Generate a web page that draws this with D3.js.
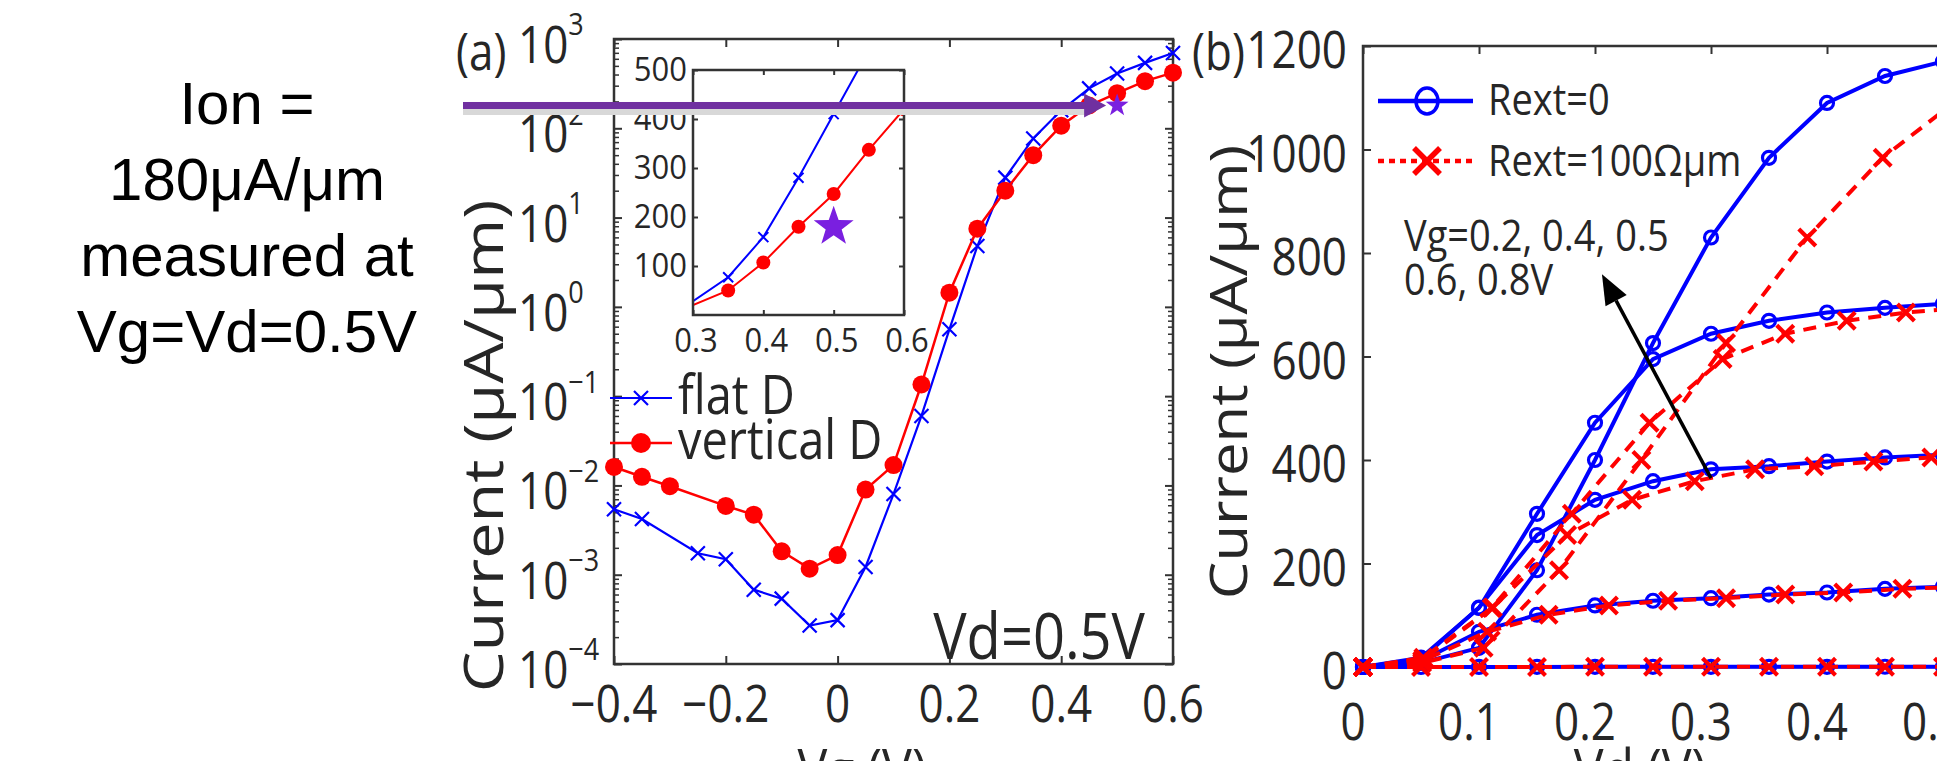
<!DOCTYPE html>
<html><head><meta charset="utf-8">
<script src="https://cdn.jsdelivr.net/npm/d3@7"></script>
<style>body{margin:0;background:#fff;} svg{display:block;}</style>
</head><body>
<svg id="chart" width="1937" height="761"></svg>
<script>
// ---------------- data ----------------
const noteLines = ["Ion =", "180μA/μm", "measured at", "Vg=Vd=0.5V"];

// panel (a): Id-Vg at Vd = 0.5 V (μA/μm), null = no marker in the figure
const vgA   = [-0.4,-0.35,-0.3,-0.25,-0.2,-0.15,-0.1,-0.05,0,0.05,0.1,0.15,0.2,0.25,0.3,0.35,0.4,0.45,0.5,0.55,0.6];
const flatD = [5.4e-3,4.2e-3,null,1.74e-3,1.49e-3,6.8e-4,5.4e-4,2.7e-4,3.1e-4,1.22e-3,8.0e-3,0.06,0.56,4.8,28,77,159,280,410,540,698];
const vertD = [0.0161,0.0125,9.8e-3,null,5.9e-3,4.7e-3,1.83e-3,1.17e-3,1.66e-3,9.0e-3,0.0169,0.135,1.44,7.5,20,50,107,180,247,337,420];
const seriesNamesA = ["flat D", "vertical D"];
const ionVg = 0.5, ionI = 180;
const xTicksA = [-0.4,-0.2,0,0.2,0.4,0.6];
const xTickLabelsA = ["−0.4","−0.2","0","0.2","0.4","0.6"];
const yExpA = [-4,-3,-2,-1,0,1,2,3];
const insetXTicks = [0.3,0.4,0.5,0.6];
const insetYTicks = [100,200,300,400,500];

// panel (b): Id-Vd, Rext = 0 (blue) and Rext = 100 Ωμm (red)
const vdB = [0,0.05,0.1,0.15,0.2,0.25,0.3,0.35,0.4,0.45,0.5];
const id0_vg02 = [0,0,0.1,0.2,0.3,0.3,0.4,0.4,0.4,0.5,0.5];
const id0_vg04 = [0,12,68,101,119,128,133,140,144,151,155];
const id0_vg05 = [0,15,115,255,323,359,382,388,397,405,410];
const id0_vg06 = [0,18,114,296,472,595,644,669,685,694,702];
const id0_vg08 = [0,8,37,187,400,626,830,984,1090,1142,1170];
const vdR_vg02 = [0,0.05,0.1,0.15,0.2,0.25,0.3,0.35,0.4,0.45,0.5];
const vdR_vg04 = [0,0.051,0.107,0.16,0.212,0.263,0.313,0.364,0.414,0.465,0.516];
const vdR_vg05 = [0,0.052,0.112,0.176,0.232,0.286,0.338,0.389,0.44,0.49,0.541];
const vdR_vg06 = [0,0.052,0.111,0.18,0.247,0.31,0.364,0.417,0.468,0.519,0.57];
const vdR_vg08 = [0,0.051,0.104,0.169,0.24,0.313,0.383,0.448,0.509,0.564,0.617];
const idR_vg02 = [0,0,0.1,0.2,0.3,0.3,0.4,0.4,0.4,0.5,0.5];
const idR_vg04 = [0,12,68,101,119,128,133,140,144,151,155];
const idR_vg05 = [0,15,115,255,323,359,382,388,397,405,410];
const idR_vg06 = [0,18,114,296,472,595,644,669,685,694,702];
const idR_vg08 = [0,8,37,187,400,626,830,984,1090,1142,1170];
const seriesNamesB = ["Rext=0", "Rext=100Ωμm"];
const annotB = ["Vg=0.2, 0.4, 0.5", "0.6, 0.8V"];
const xTicksB = [0,0.1,0.2,0.3,0.4,0.5];
const yTicksB = [0,200,400,600,800,1000,1200];

// ---------------- drawing ----------------
const svg = d3.select("#chart");
const FONT = "'Open Sans', sans-serif";
const TXT = "#262626";
const AX = "#333";
const BLUE = "#0000ff", RED = "#ff0000", PURPLE = "#7030a0", STAR = "#7a1fe0";
const SY = 1.15; // the figure is slightly stretched vertically

function txt(g, x, y, s, size, anchor = "start", sy = SY) {
  return g.append("text").attr("transform", `translate(${x},${y}) scale(1,${sy})`)
    .attr("text-anchor", anchor).attr("font-family", FONT).attr("font-size", size).attr("fill", TXT).text(s);
}
function vtxt(g, x, y, s, size, sx = 1.2) {
  return g.append("text").attr("transform", `translate(${x},${y}) rotate(-90) scale(${sx},1)`)
    .attr("text-anchor", "middle").attr("font-family", FONT).attr("font-size", size).attr("fill", TXT).text(s);
}
function starPath(cx, cy, R) {
  const r = R * 0.40, pts = [];
  for (let i = 0; i < 10; i++) {
    const a = -Math.PI/2 + i*Math.PI/5, rr = i % 2 ? r : R;
    pts.push([cx + rr*Math.cos(a), cy + rr*Math.sin(a)]);
  }
  return "M" + pts.map(p => p.join(",")).join("L") + "Z";
}
function crossMark(g, x, y, h, color, w) {
  g.append("path").attr("d", `M${x-h},${y-h}L${x+h},${y+h}M${x-h},${y+h}L${x+h},${y-h}`)
    .attr("stroke", color).attr("stroke-width", w).attr("fill", "none");
}
function ticks(g, axisFn, pos, vertical, len, w) {
  g.append("g").attr("transform", vertical ? `translate(${pos},0)` : `translate(0,${pos})`)
    .call(axisFn.tickSize(-len).tickFormat(""))
    .call(s => s.select(".domain").remove())
    .selectAll("line").attr("stroke", AX).attr("stroke-width", w);
}

// left note
const note = svg.append("g");
noteLines.forEach((t, i) => note.append("text").attr("x", 247).attr("y", 124 + i*76)
  .attr("text-anchor", "middle").attr("font-family", "'Liberation Sans', Arial, sans-serif")
  .attr("font-size", 60).attr("fill", "#000").text(t));

// ===== panel (a) =====
const xA = d3.scaleLinear([-0.4, 0.6], [614, 1173]);
const yA = d3.scaleLog([1e-4, 1e3], [664, 39]);
const gA = svg.append("g");

const majorA = yExpA.map(e => Math.pow(10, e));
const minorA = yA.ticks().filter(v => !majorA.some(m => Math.abs(Math.log10(v) - Math.log10(m)) < 1e-6));
ticks(gA, d3.axisLeft(yA).tickValues(majorA), 614, true, 8, 2);
ticks(gA, d3.axisLeft(yA).tickValues(minorA), 614, true, 5, 1.5);
ticks(gA, d3.axisRight(yA).tickValues(majorA), 1173, true, 8, 2);
ticks(gA, d3.axisRight(yA).tickValues(minorA), 1173, true, 5, 1.5);
ticks(gA, d3.axisBottom(xA).tickValues(xTicksA), 664, false, 8, 2);
ticks(gA, d3.axisTop(xA).tickValues(xTicksA), 39, false, 8, 2);
gA.append("rect").attr("x", 614).attr("y", 39).attr("width", 559).attr("height", 625)
  .attr("fill", "none").attr("stroke", AX).attr("stroke-width", 2.5);

xTicksA.forEach((v, i) => txt(gA, xA(v), 722, xTickLabelsA[i], 44, "middle"));
yExpA.forEach(e => {
  const t = txt(gA, 518, yA(Math.pow(10, e)) + 24, "10", 44);
  t.append("tspan").attr("dy", -24).attr("font-size", 27).text(e < 0 ? "−" + (-e) : String(e));
});
txt(gA, 456, 70, "(a)", 44);
vtxt(gA, 503, 446, "Current (μA/μm)", 54);
txt(gA, 862, 790, "Vg (V)", 50, "middle");
txt(gA, 1145, 659, "Vd=0.5V", 56, "end");

// data (a)
const ptsFlat = vgA.map((v, i) => [v, flatD[i]]).filter(d => d[1] != null);
const ptsVert = vgA.map((v, i) => [v, vertD[i]]).filter(d => d[1] != null);
const lineA = d3.line().x(d => xA(d[0])).y(d => yA(d[1]));
gA.append("path").attr("d", lineA(ptsFlat)).attr("fill", "none").attr("stroke", BLUE).attr("stroke-width", 2.2);
ptsFlat.forEach(d => crossMark(gA, xA(d[0]), yA(d[1]), 7, BLUE, 2.2));
gA.append("path").attr("d", lineA(ptsVert)).attr("fill", "none").attr("stroke", RED).attr("stroke-width", 2.5);
gA.selectAll(null).data(ptsVert).join("circle").attr("cx", d => xA(d[0])).attr("cy", d => yA(d[1]))
  .attr("r", 9).attr("fill", RED);

// legend (a)
gA.append("line").attr("x1", 610).attr("x2", 672).attr("y1", 398).attr("y2", 398).attr("stroke", BLUE).attr("stroke-width", 2.2);
crossMark(gA, 641, 398, 7, BLUE, 2.2);
gA.append("line").attr("x1", 610).attr("x2", 672).attr("y1", 443).attr("y2", 443).attr("stroke", RED).attr("stroke-width", 2.5);
gA.append("circle").attr("cx", 641).attr("cy", 443).attr("r", 10).attr("fill", RED);
txt(gA, 678, 414, seriesNamesA[0], 47);
txt(gA, 678, 459, seriesNamesA[1], 47);

// inset
const xIn = d3.scaleLinear([0.3, 0.6], [693, 904]);
const yIn = d3.scaleLinear([0, 500], [315, 70]);
const gI = svg.append("g");
gI.append("rect").attr("x", 693).attr("y", 70).attr("width", 211).attr("height", 245).attr("fill", "#fff");
svg.append("defs").append("clipPath").attr("id", "clipIn").append("rect")
  .attr("x", 693).attr("y", 70).attr("width", 211).attr("height", 245);
ticks(gI, d3.axisLeft(yIn).tickValues(insetYTicks), 693, true, 5, 2);
ticks(gI, d3.axisRight(yIn).tickValues(insetYTicks), 904, true, 5, 2);
ticks(gI, d3.axisBottom(xIn).tickValues(insetXTicks), 315, false, 5, 2);
ticks(gI, d3.axisTop(xIn).tickValues(insetXTicks), 70, false, 5, 2);
const inFlat = ptsFlat.filter(d => d[0] >= 0.3 - 1e-9);
const inVert = ptsVert.filter(d => d[0] >= 0.3 - 1e-9);
const lineIn = d3.line().x(d => xIn(d[0])).y(d => yIn(d[1]));
const gIc = gI.append("g").attr("clip-path", "url(#clipIn)");
gIc.append("path").attr("d", lineIn(inFlat)).attr("fill", "none").attr("stroke", BLUE).attr("stroke-width", 2);
inFlat.filter(d => d[0] > 0.3 + 1e-9).forEach(d => crossMark(gIc, xIn(d[0]), yIn(d[1]), 5, BLUE, 2));
gIc.append("path").attr("d", lineIn(inVert)).attr("fill", "none").attr("stroke", RED).attr("stroke-width", 2);
gIc.selectAll(null).data(inVert.filter(d => d[0] > 0.3 + 1e-9)).join("circle")
  .attr("cx", d => xIn(d[0])).attr("cy", d => yIn(d[1])).attr("r", 7).attr("fill", RED);
gI.append("path").attr("d", starPath(xIn(ionVg), yIn(ionI), 21)).attr("fill", STAR);
gI.append("rect").attr("x", 693).attr("y", 70).attr("width", 211).attr("height", 245)
  .attr("fill", "none").attr("stroke", AX).attr("stroke-width", 2.5);
insetXTicks.forEach(v => txt(gI, xIn(v) + 3, 352, v.toFixed(1), 31, "middle", 1.05));
insetYTicks.forEach(v => txt(gI, 687, yIn(v) + 11, String(v), 31, "end", 1.05));

// star in main plot + purple arrow
gA.append("path").attr("d", starPath(xA(ionVg), yA(ionI), 12)).attr("fill", STAR);
const ay = yA(ionI), tipX = xA(ionVg) - 11;
svg.append("rect").attr("x", 463).attr("y", ay + 3.5).attr("width", tipX - 20 - 463).attr("height", 6).attr("fill", "#d8d8d8");
svg.append("rect").attr("x", 463).attr("y", ay - 3.5).attr("width", tipX - 20 - 463).attr("height", 7).attr("fill", PURPLE);
svg.append("path").attr("d", `M${tipX - 22},${ay - 12}L${tipX},${ay}L${tipX - 22},${ay + 12}Z`).attr("fill", PURPLE);

// ===== panel (b) =====
const xB = d3.scaleLinear([0, 0.6], [1363, 2059]);
const yB = d3.scaleLinear([0, 1200], [667, 46]);
const gB = svg.append("g");
ticks(gB, d3.axisLeft(yB).tickValues(yTicksB), 1363, true, 8, 2);
ticks(gB, d3.axisBottom(xB).tickValues(xTicksB), 667, false, 8, 2);
ticks(gB, d3.axisTop(xB).tickValues(xTicksB), 46, false, 8, 2);
gB.append("rect").attr("x", 1363).attr("y", 46).attr("width", 696).attr("height", 621)
  .attr("fill", "none").attr("stroke", AX).attr("stroke-width", 2.5);
xTicksB.forEach(v => txt(gB, xB(v) - 10, 740, v === 0 ? "0" : v.toFixed(1), 44, "middle"));
yTicksB.forEach(v => txt(gB, 1347, yB(v) + 22, String(v), 44, "end"));
txt(gB, 1192, 70, "(b)", 44);
vtxt(gB, 1247, 372, "Current (μA/μm)", 52, 1.15);
txt(gB, 1640, 790, "Vd (V)", 50, "middle");

const blueSets = [id0_vg02, id0_vg04, id0_vg05, id0_vg06, id0_vg08];
const redSets = [[vdR_vg02, idR_vg02], [vdR_vg04, idR_vg04], [vdR_vg05, idR_vg05], [vdR_vg06, idR_vg06], [vdR_vg08, idR_vg08]];
const lineB = d3.line().x(d => xB(d[0])).y(d => yB(d[1]));
blueSets.forEach(ids => {
  const pts = vdB.map((v, i) => [v, ids[i]]);
  gB.append("path").attr("d", lineB(pts)).attr("fill", "none").attr("stroke", BLUE).attr("stroke-width", 4);
  gB.selectAll(null).data(pts).join("circle").attr("cx", d => xB(d[0])).attr("cy", d => yB(d[1]))
    .attr("r", 6.5).attr("fill", "none").attr("stroke", BLUE).attr("stroke-width", 3.2);
});
redSets.forEach(([vds, ids]) => {
  const pts = vds.map((v, i) => [v, ids[i]]);
  gB.append("path").attr("d", lineB(pts)).attr("fill", "none").attr("stroke", RED).attr("stroke-width", 4)
    .attr("stroke-dasharray", "13,9");
  pts.forEach(d => crossMark(gB, xB(d[0]), yB(d[1]), 8.5, RED, 4.2));
});

// legend (b)
gB.append("line").attr("x1", 1378).attr("x2", 1473).attr("y1", 101).attr("y2", 101).attr("stroke", BLUE).attr("stroke-width", 4.5);
gB.append("ellipse").attr("cx", 1427).attr("cy", 101).attr("rx", 11).attr("ry", 13).attr("fill", "none").attr("stroke", BLUE).attr("stroke-width", 3.5);
gB.append("line").attr("x1", 1378).attr("x2", 1473).attr("y1", 161).attr("y2", 161).attr("stroke", RED).attr("stroke-width", 4.5)
  .attr("stroke-dasharray", "6,5");
crossMark(gB, 1427, 161, 13, RED, 5.5);
txt(gB, 1488, 115, seriesNamesB[0], 38);
txt(gB, 1488, 176, seriesNamesB[1], 38);

// annotation (b)
annotB.forEach((t, i) => txt(gB, 1404, 251 + i*44, t, 38));
const a0 = [xB(0.3), yB(365)], a1 = [xB(0.206), yB(759)];
const ang = Math.atan2(a1[1] - a0[1], a1[0] - a0[0]);
const hl = 30, hw = 12;
const bx = a1[0] - hl*Math.cos(ang), by = a1[1] - hl*Math.sin(ang);
gB.append("line").attr("x1", a0[0]).attr("y1", a0[1]).attr("x2", bx).attr("y2", by).attr("stroke", "#000").attr("stroke-width", 3.5);
gB.append("path").attr("d", `M${a1[0]},${a1[1]}L${bx + hw*Math.sin(ang)},${by - hw*Math.cos(ang)}L${bx - hw*Math.sin(ang)},${by + hw*Math.cos(ang)}Z`)
  .attr("fill", "#000");
</script>
</body></html>
